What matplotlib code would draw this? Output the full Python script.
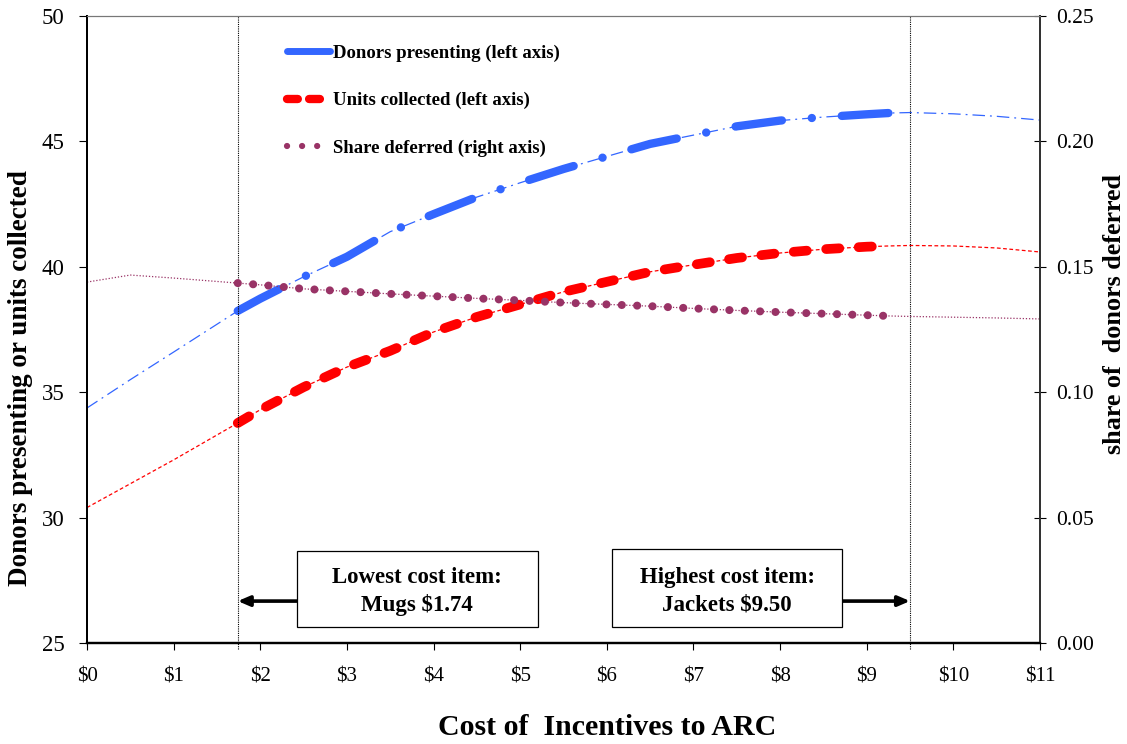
import numpy as np
import matplotlib
matplotlib.use('Agg')
import matplotlib.pyplot as plt
from matplotlib.lines import Line2D
from matplotlib.patches import Rectangle

plt.rcParams['font.family'] = ['Liberation Serif', 'DejaVu Serif']

# 数据: 激励成本 (美元)
cost = [0, 0.5, 1, 1.74, 2, 2.5, 3, 3.5, 4, 4.5, 5, 5.5, 6, 6.5, 7, 7.5,
        8, 8.5, 9, 9.25, 9.5, 10, 10.5, 11]
donors = [34.37, 35.5, 36.6, 38.24, 38.73, 39.6, 40.4, 41.4, 42.1, 42.78,
          43.35, 43.9, 44.4, 44.9, 45.25, 45.6, 45.83, 45.97, 46.08, 46.13,
          46.15, 46.1, 46.0, 45.85]
units = [30.4, 31.35, 32.3, 33.77, 34.3, 35.2, 36.0, 36.65, 37.4, 38.0,
         38.5, 39.0, 39.4, 39.8, 40.08, 40.35, 40.55, 40.7, 40.8, 40.83,
         40.85, 40.83, 40.75, 40.59]
deferred = [0.1439, 0.1467, 0.1455, 0.1435, 0.1428, 0.1412, 0.1402, 0.1392,
            0.1383, 0.1374, 0.1366, 0.1357, 0.1350, 0.1343, 0.1334, 0.1326,
            0.1319, 0.1313, 0.1307, 0.1304, 0.1302, 0.1299, 0.1296, 0.1292]
lowest_cost = 1.74
highest_cost = 9.5
x_ticks = list(range(0, 12))
x_labels = ['$%d' % v for v in x_ticks]

BLUE = '#3366FF'
RED = '#FF0000'
PURPLE = '#993366'

cost = np.array(cost)
i0 = list(cost).index(lowest_cost)
i1 = list(cost).index(9.25)

fig = plt.figure(figsize=(11.27, 7.44), dpi=100)
ax = fig.add_axes([0.0772, 0.1358, 0.8456, 0.8427])
ax2 = ax.twinx()

# 细线 (全范围)
ax.plot(cost, donors, color=BLUE, lw=0.9, dashes=(10, 4, 1.5, 4))
ax.plot(cost, units, color=RED, lw=0.9, dashes=(3, 2))
ax2.plot(cost, deferred, color=PURPLE, lw=0.9, dashes=(1, 1.5))

# 粗线 (最低到最高成本之间)
ax.plot(cost[i0:i1 + 1], donors[i0:i1 + 1], color=BLUE, lw=6,
        dashes=(5.6, 3.6, 0.01, 3.6), dash_capstyle='round')
ax.plot(cost[i0:i1 + 1], units[i0:i1 + 1], color=RED, lw=7,
        dashes=(1.35, 2.0), dash_capstyle='round')
ax2.plot(cost[i0:i1 + 1], deferred[i0:i1 + 1], color=PURPLE, lw=5.8,
         dashes=(0.01, 1.9), dash_capstyle='round')

for v in (lowest_cost, highest_cost):
    ax.axvline(v, color='black', lw=0.8, ls=(0, (1, 1)), ymin=-0.01, clip_on=False)

ax.set_xlim(0, 11)
ax.set_ylim(25, 50)
ax2.set_ylim(0, 0.25)
ax.set_xticks(x_ticks)
ax.set_xticklabels(x_labels)
ax.set_yticks(range(25, 51, 5))
ax2.set_yticks(np.arange(0, 0.26, 0.05))
ax2.set_yticklabels(['%.2f' % v for v in np.arange(0, 0.26, 0.05)])

ax.tick_params(axis='x', direction='out', length=5, pad=13, labelsize=15, colors='black')
ax.tick_params(axis='y', direction='out', length=6, pad=10, labelsize=16.5)
ax2.tick_params(axis='y', direction='inout', length=9, pad=7, labelsize=15.5)

for a in (ax, ax2):
    a.spines['bottom'].set_linewidth(1.6)
    a.spines['left'].set_linewidth(1.4)
    a.spines['right'].set_linewidth(1.4)
    a.spines['right'].set_color('#333333')
    a.spines['top'].set_linewidth(0.8)
    a.spines['top'].set_color('#777777')

ax.set_xlabel('Cost of  Incentives to ARC', fontsize=21.5, fontweight='bold')
ax.xaxis.set_label_coords(0.5457, -0.113)
ax.set_ylabel('Donors presenting or units collected', fontsize=19.5, fontweight='bold')
ax.yaxis.set_label_coords(-0.057, 0.4226)
ax2.set_ylabel('share of  donors deferred', fontsize=18.8, fontweight='bold',
               rotation=90)
ax2.yaxis.set_label_coords(1.066, 0.525)

# 图例
handles = [
    Line2D([], [], color=BLUE, lw=5, solid_capstyle='round'),
    Line2D([], [], color=RED, lw=6, dashes=(1.3, 1.35), dash_capstyle='round'),
    Line2D([], [], color=PURPLE, lw=4.5, dashes=(0.01, 2.4), dash_capstyle='round'),
]
labels = ['Donors presenting (left axis)', 'Units collected (left axis)',
          'Share deferred (right axis)']
ax.legend(handles, labels, loc='upper left', bbox_to_anchor=(0.240, 0.963),
          bbox_transform=fig.transFigure, frameon=False, handlelength=2.3,
          handletextpad=0.15, labelspacing=1.62,
          prop={'weight': 'bold', 'size': 13.5})

# 注释框和箭头
ax.add_patch(Rectangle((2.42, 25.64), 2.79, 3.03, fc='white', ec='black',
                       lw=0.9, zorder=5))
ax.add_patch(Rectangle((6.06, 25.64), 2.65, 3.11, fc='white', ec='black',
                       lw=0.9, zorder=5))
arrow = dict(arrowstyle='-|>,head_length=0.7,head_width=0.3', color='black',
             lw=2.6, shrinkA=0, shrinkB=0)
ax.annotate('', xy=(lowest_cost, 26.67), xytext=(2.42, 26.67), arrowprops=arrow)
ax.annotate('', xy=(highest_cost, 26.67), xytext=(8.71, 26.67), arrowprops=arrow)
ax.text(3.81, 27.05, 'Lowest cost item:\nMugs $1.74', ha='center', va='center',
        fontsize=16.5, fontweight='bold', linespacing=1.4, zorder=6)
ax.text(7.39, 27.05, 'Highest cost item:\nJackets $9.50', ha='center', va='center',
        fontsize=16.5, fontweight='bold', linespacing=1.4, zorder=6)

fig.savefig('out.png', dpi=100)
